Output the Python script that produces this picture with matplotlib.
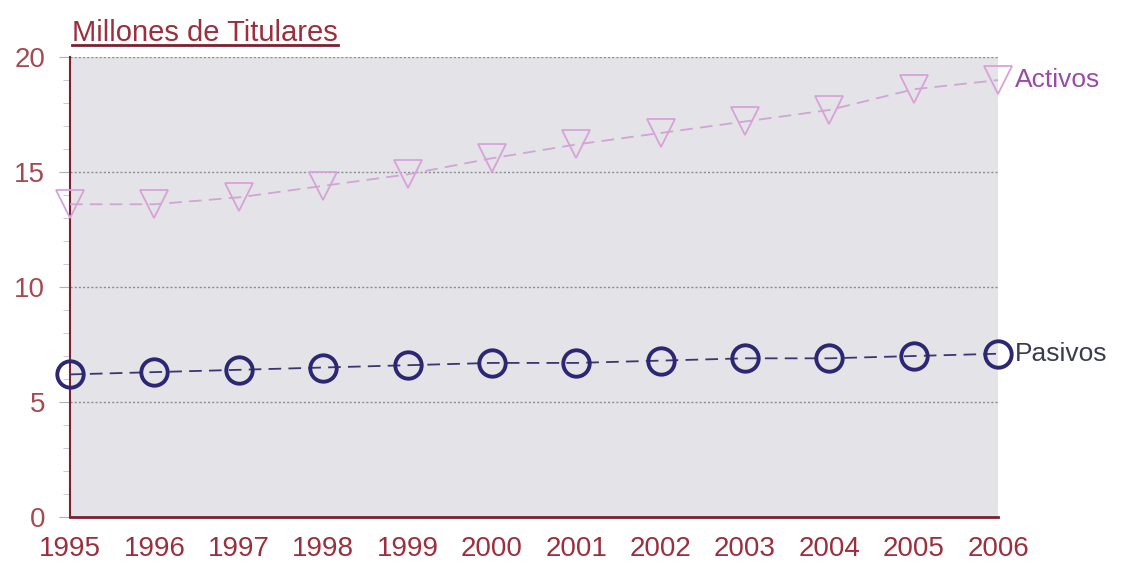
import matplotlib
matplotlib.use("Agg")
import matplotlib.pyplot as plt
from matplotlib.lines import Line2D
from matplotlib.ticker import MultipleLocator

plt.rcParams['font.family'] = ['Liberation Sans', 'DejaVu Sans']

# datos
anios = [1995, 1996, 1997, 1998, 1999, 2000, 2001, 2002, 2003, 2004, 2005, 2006]
activos = [13.6, 13.6, 13.9, 14.4, 14.9, 15.6, 16.2, 16.7, 17.2, 17.7, 18.6, 19.0]
pasivos = [6.2, 6.3, 6.4, 6.5, 6.6, 6.7, 6.7, 6.8, 6.9, 6.9, 7.0, 7.1]
y_ticks = [0, 5, 10, 15, 20]

rojo = '#9c2f3e'
fig = plt.figure(figsize=(11.24, 5.71), dpi=100)
ax = fig.add_axes([0.0623, 0.0946, 0.8257, 0.8054])
ax.set_facecolor('#e4e4e8')

# lineas de cuadricula punteadas
for v in y_ticks[1:]:
    ax.axhline(v, color='#8a8a96', lw=1.0, ls=(0, (1.5, 1.5)), zorder=1)

ax.plot(anios, activos, color='#d0a4d4', lw=1.3, ls=(0, (7, 4)),
        marker='v', markersize=20, markerfacecolor='none',
        markeredgecolor='#d6a2d8', markeredgewidth=1.3, clip_on=False, zorder=3)
ax.plot(anios, pasivos, color='#3a3670', lw=1.3, ls=(0, (7, 4)),
        marker='o', markersize=19, markerfacecolor='none',
        markeredgecolor='#2c2772', markeredgewidth=2.8, clip_on=False, zorder=3)

ax.text(2006.2, activos[-1], 'Activos', color='#9a4aa8', fontsize=19,
        va='center', ha='left', clip_on=False)
ax.text(2006.2, pasivos[-1], 'Pasivos', color='#3a3a52', fontsize=19,
        va='center', ha='left', clip_on=False)

ax.set_xlim(1995, 2006)
ax.set_ylim(0, 20)
ax.set_xticks(anios)
ax.set_yticks(y_ticks)
ax.yaxis.set_minor_locator(MultipleLocator(1))
ax.tick_params(axis='x', length=0, pad=14, labelsize=20, labelcolor=rojo)
ax.tick_params(axis='y', which='major', length=8, color='#b0b0b8',
               pad=10, labelsize=20, labelcolor='#a64a52')
ax.tick_params(axis='y', which='minor', length=5, color='#c0c0c8')

for s in ['top', 'right']:
    ax.spines[s].set_visible(False)
ax.spines['left'].set_color('#7a2030')
ax.spines['bottom'].set_color('#7a2030')
ax.spines['left'].set_linewidth(1.5)
ax.spines['bottom'].set_linewidth(2)

# titulo subrayado
titulo = fig.text(0.064, 0.918, 'Millones de Titulares', color=rojo,
                  fontsize=21, ha='left', va='bottom')
fig.canvas.draw()
bb = titulo.get_window_extent().transformed(fig.transFigure.inverted())
fig.add_artist(Line2D([bb.x0, bb.x1], [bb.y0 + 0.004, bb.y0 + 0.004],
                      color='#7a2030', lw=2, transform=fig.transFigure))

fig.savefig('out.png', dpi=100, facecolor='white')
